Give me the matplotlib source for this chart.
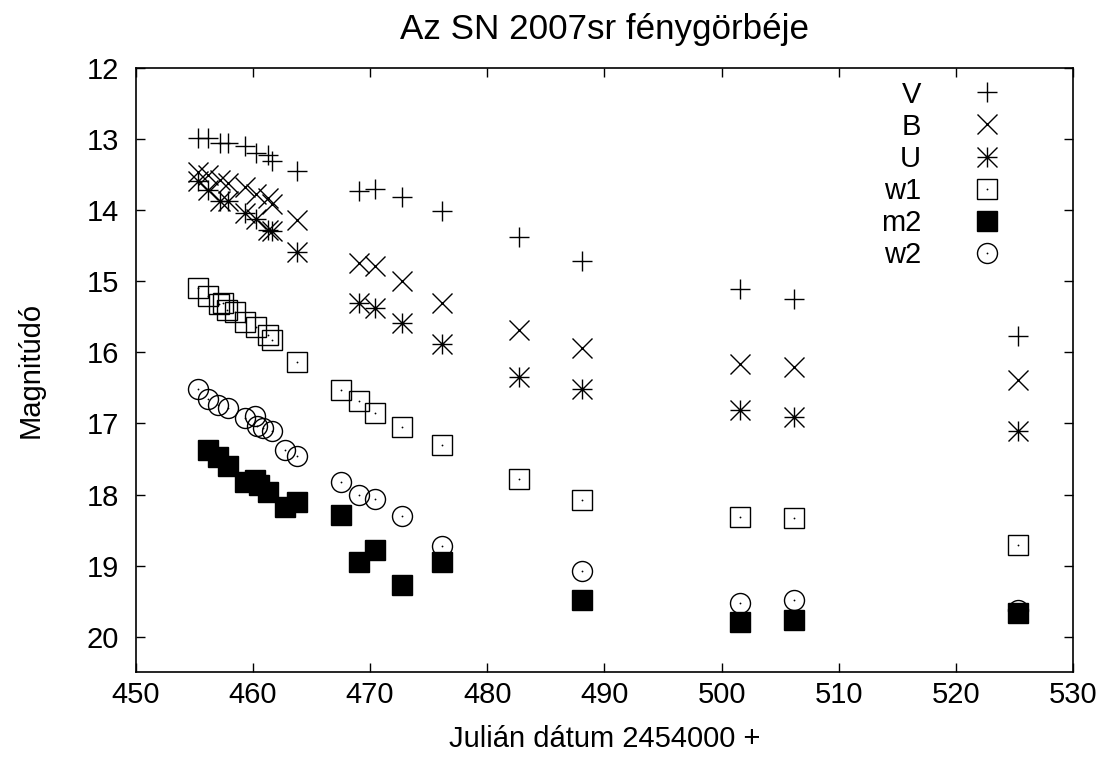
import matplotlib
matplotlib.use("Agg")
import matplotlib.pyplot as plt
from matplotlib.path import Path

# Julian date - 2454000, magnitudes per filter
v_x = [455.34, 456.14, 457.19, 457.84, 459.32, 460.26, 461.25, 461.59, 463.73,
       469.04, 470.46, 472.75, 476.17, 482.68, 488.07, 501.6, 506.2, 525.3]
v_y = [12.98, 12.98, 13.06, 13.06, 13.10, 13.20, 13.22, 13.31, 13.45,
       13.73, 13.70, 13.81, 14.01, 14.38, 14.71, 15.11, 15.25, 15.77]

b_x = v_x
b_y = [13.46, 13.50, 13.57, 13.62, 13.68, 13.78, 13.83, 13.92, 14.14,
       14.75, 14.78, 15.00, 15.31, 15.69, 15.94, 16.16, 16.21, 16.39]

u_x = v_x
u_y = [13.59, 13.72, 13.87, 13.87, 14.04, 14.13, 14.28, 14.30, 14.59,
       15.31, 15.38, 15.59, 15.88, 16.35, 16.51, 16.81, 16.91, 17.11]

w1_x = [455.29, 456.19, 457.13, 457.47, 457.81, 458.47, 459.32, 460.26, 461.25,
        461.59, 463.73, 467.56, 469.04, 470.46, 472.75, 476.17, 482.68, 488.07,
        501.6, 506.2, 525.3]
w1_y = [15.09, 15.21, 15.32, 15.31, 15.41, 15.44, 15.57, 15.65, 15.75,
        15.83, 16.13, 16.53, 16.69, 16.85, 17.05, 17.31, 17.78, 18.08,
        18.31, 18.33, 18.71]

m2_x = [456.19, 457.04, 457.84, 459.32, 460.17, 460.5, 461.3, 462.73, 463.73,
        467.56, 469.04, 470.46, 472.75, 476.17, 488.07, 501.6, 506.2, 525.3]
m2_y = [17.37, 17.47, 17.60, 17.82, 17.80, 17.87, 17.96, 18.17, 18.10,
        18.29, 18.95, 18.78, 19.27, 18.95, 19.48, 19.80, 19.77, 19.66]

w2_x = [455.29, 456.14, 457.04, 457.84, 459.32, 460.2, 460.35, 460.9, 461.59,
        462.73, 463.8, 467.56, 469.04, 470.46, 472.75, 476.17, 488.07, 501.6,
        506.2, 525.3]
w2_y = [16.52, 16.65, 16.74, 16.78, 16.92, 16.90, 17.03, 17.06, 17.11,
        17.37, 17.46, 17.83, 18.00, 18.06, 18.30, 18.72, 19.07, 19.53,
        19.48, 19.63]

labels = ["V", "B", "U", "w1", "m2", "w2"]

plt.rcParams["font.family"] = ["Liberation Sans", "DejaVu Sans"]
plt.rcParams["font.size"] = 21

# gnuplot style asterisk: + and x on top of each other
asterisk = Path([(-1, 0), (1, 0), (0, -1), (0, 1), (-1, -1), (1, 1), (-1, 1), (1, -1)],
                [Path.MOVETO, Path.LINETO] * 4)

fig = plt.figure(figsize=(11.16, 7.69), dpi=100)
ax = fig.add_axes([0.1216, 0.1258, 0.8399, 0.7859])

ms = 14.4
mew = 1.0
common = dict(linestyle="none", color="black", markersize=ms, markeredgewidth=mew)
dot = dict(linestyle="none", color="black", marker="o", markersize=1.3, markeredgewidth=0)

hv, = ax.plot(v_x, v_y, marker="+", **common)
hb, = ax.plot(b_x, b_y, marker="x", **common)
hu, = ax.plot(u_x, u_y, marker=asterisk, **common)
hw1, = ax.plot(w1_x, w1_y, marker="s", markerfacecolor="none", **common)
dw1, = ax.plot(w1_x, w1_y, **dot)
hm2, = ax.plot(m2_x, m2_y, marker="s", markerfacecolor="black", **common)
hw2, = ax.plot(w2_x, w2_y, marker="o", markerfacecolor="none", **common)
dw2, = ax.plot(w2_x, w2_y, **dot)

ax.set_xlim(450, 530)
ax.set_ylim(20.5, 12)
ax.set_xticks(range(450, 531, 10))
ax.set_yticks(range(12, 21))
ax.tick_params(direction="in", length=6.5, width=1.0, top=True, right=True)
ax.tick_params(axis="x", pad=6)
ax.tick_params(axis="y", pad=12)
for sp in ax.spines.values():
    sp.set_linewidth(1.2)

ax.set_title("Az SN 2007sr fénygörbéje", pad=21)
ax.set_xlabel("Julián dátum 2454000 +", labelpad=12)
ax.set_ylabel("Magnitúdó", labelpad=30)

leg = ax.legend([hv, hb, hu, (hw1, dw1), hm2, (hw2, dw2)], labels,
                loc="upper right", bbox_to_anchor=(0.921, 0.979),
                frameon=False, markerfirst=False, numpoints=1,
                handlelength=0.8, handletextpad=1.87, labelspacing=0.14,
                borderpad=0, borderaxespad=0)
# right-justify key text like gnuplot
for col in leg._legend_handle_box.get_children():
    col.align = "right"

fig.savefig("out.png", dpi=100)
